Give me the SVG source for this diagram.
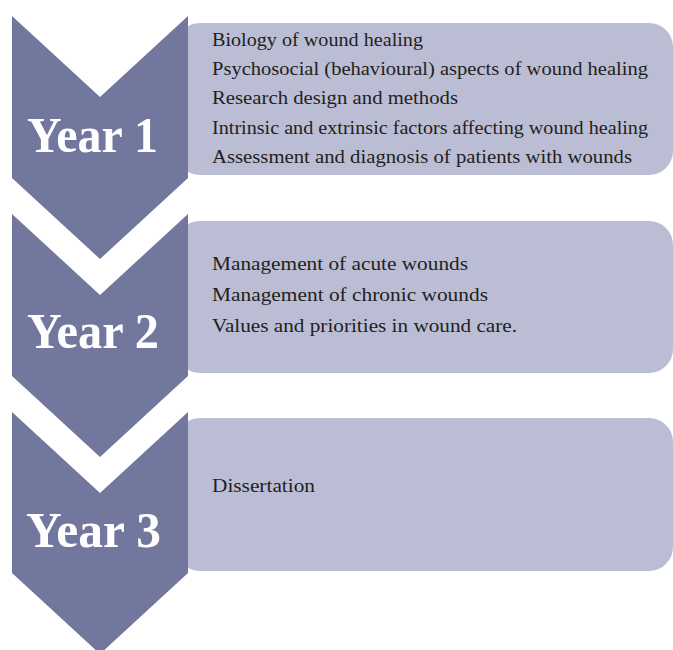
<svg xmlns="http://www.w3.org/2000/svg" width="673" height="650" viewBox="0 0 673 650">
<defs>
<style>
.box{fill:#bbbdd4;}
.chev{fill:#72789d;}
.yr{font-family:"Liberation Serif",serif;font-weight:bold;font-size:51px;fill:#ffffff;}
.t{font-family:"Liberation Serif",serif;font-size:19px;fill:#231f20;}
</style>
</defs>
<rect width="673" height="650" fill="#ffffff"/>
<g id="box1"><rect class="box" x="176" y="23" width="497" height="152" rx="24" ry="24"/>
<text class="t" x="212" y="46" textLength="211" lengthAdjust="spacingAndGlyphs">Biology of wound healing</text>
<text class="t" x="212" y="75" textLength="436" lengthAdjust="spacingAndGlyphs">Psychosocial (behavioural) aspects of wound healing</text>
<text class="t" x="212" y="104" textLength="246" lengthAdjust="spacingAndGlyphs">Research design and methods</text>
<text class="t" x="212" y="134" textLength="436" lengthAdjust="spacingAndGlyphs">Intrinsic and extrinsic factors affecting wound healing</text>
<text class="t" x="212" y="163" textLength="420" lengthAdjust="spacingAndGlyphs">Assessment and diagnosis of patients with wounds</text>
</g>
<g id="box2"><rect class="box" x="176" y="221" width="497" height="152" rx="24" ry="24"/>
<text class="t" x="212" y="270" textLength="256" lengthAdjust="spacingAndGlyphs">Management of acute wounds</text>
<text class="t" x="212" y="301" textLength="276" lengthAdjust="spacingAndGlyphs">Management of chronic wounds</text>
<text class="t" x="212" y="332" textLength="305" lengthAdjust="spacingAndGlyphs">Values and priorities in wound care.</text>
</g>
<g id="box3"><rect class="box" x="176" y="418" width="497" height="153" rx="24" ry="24"/>
<text class="t" x="212" y="492" textLength="103" lengthAdjust="spacingAndGlyphs">Dissertation</text>
</g>
<g id="year1"><path class="chev" d="M12,16 L100,97 L188,16 L188,178 L100,259 L12,178 Z"/>
<text class="yr" x="27" y="152" textLength="131" lengthAdjust="spacingAndGlyphs">Year 1</text></g>
<g id="year2"><path class="chev" d="M12,214 L100,295 L188,214 L188,376 L100,457 L12,376 Z"/>
<text class="yr" x="27" y="348" textLength="132" lengthAdjust="spacingAndGlyphs">Year 2</text></g>
<g id="year3"><path class="chev" d="M12,412 L100,493 L188,412 L188,573 L100,654 L12,573 Z"/>
<text class="yr" x="26" y="547" textLength="135" lengthAdjust="spacingAndGlyphs">Year 3</text></g>
<g id="connectors"></g>
</svg>
